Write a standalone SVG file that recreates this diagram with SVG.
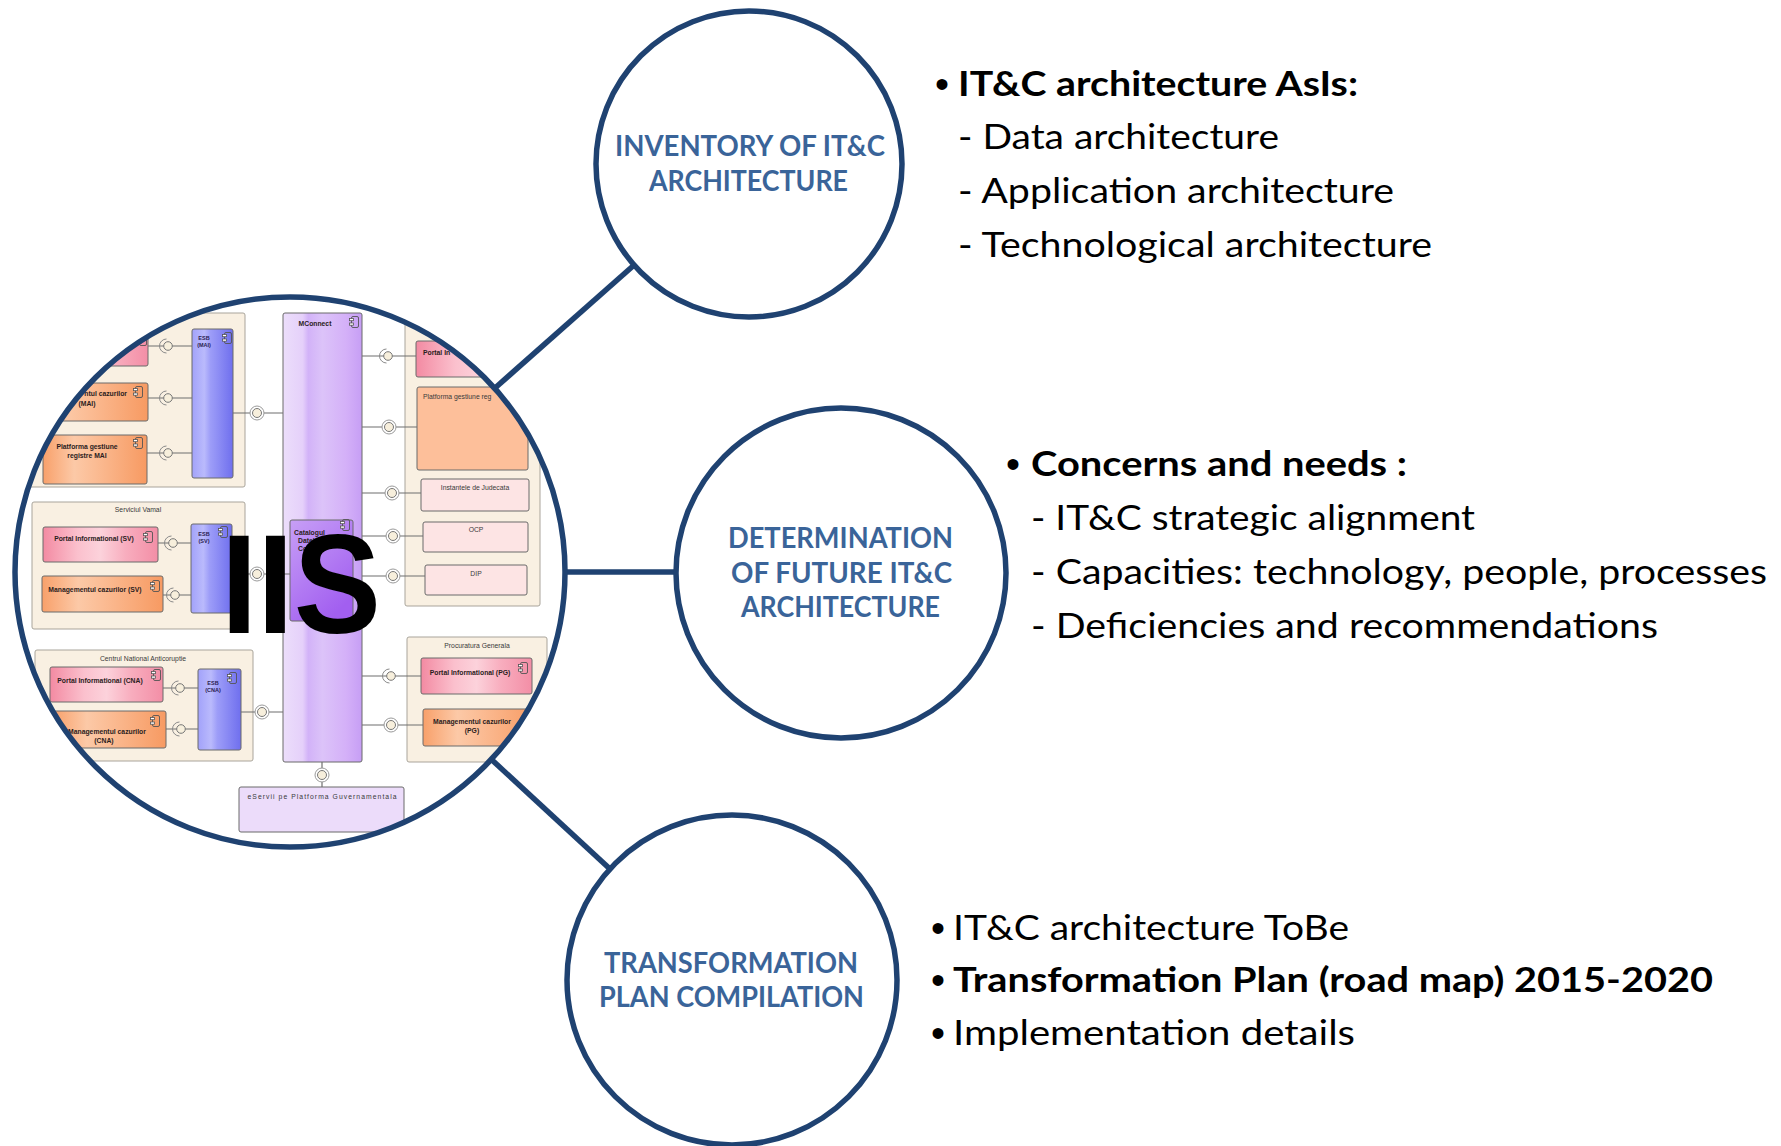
<svg xmlns="http://www.w3.org/2000/svg" xmlns:xlink="http://www.w3.org/1999/xlink" width="1781" height="1146" viewBox="0 0 1781 1146">
<style>
.conn{stroke:#1f4271;stroke-width:5.5;fill:none}
.ring{fill:#fff;stroke:#1f4271;stroke-width:5.5}
.ct{font-family:Lato,"Open Sans",sans-serif;font-weight:700;font-size:29px;fill:#3a6499;text-anchor:middle}
.bt{font-family:Lato,"Open Sans",sans-serif;font-size:35px;fill:#000}
.bu{font-family:"Liberation Sans",Arial,sans-serif;font-size:40px;fill:#000}
.b{font-weight:700}
.pkg{fill:#f9f0e2;stroke:#a9a49b;stroke-width:1}
.cmp{stroke:#6b6b6b;stroke-width:1}
.ln{stroke:#6e6e6e;stroke-width:1.2;fill:none}
.lb{font-family:"Liberation Sans",Arial,sans-serif;font-size:6.8px;font-weight:700;fill:#2a2020}
.lr{font-family:"Liberation Sans",Arial,sans-serif;font-size:6.8px;fill:#3a3a3a}
.ls{font-family:"Liberation Sans",Arial,sans-serif;font-size:5.5px;font-weight:700;fill:#2a2050;text-anchor:middle}
.m{text-anchor:middle}
.e{text-anchor:end}
</style>
<defs>
<linearGradient id="gPink" x1="0" y1="0" x2="1" y2="0">
<stop offset="0" stop-color="#f38aa2"/><stop offset="0.3" stop-color="#fbc0cd"/><stop offset="0.5" stop-color="#fcd2db"/><stop offset="0.72" stop-color="#f8adbe"/><stop offset="1" stop-color="#f38ea6"/>
</linearGradient>
<linearGradient id="gOr" x1="0" y1="0" x2="1" y2="0">
<stop offset="0" stop-color="#f8a06a"/><stop offset="0.3" stop-color="#fcc9a7"/><stop offset="0.5" stop-color="#fbbc94"/><stop offset="1" stop-color="#f79a62"/>
</linearGradient>
<linearGradient id="gBlue" x1="0" y1="0" x2="1" y2="0">
<stop offset="0" stop-color="#a2a2fa"/><stop offset="0.3" stop-color="#babafc"/><stop offset="0.45" stop-color="#9d9df8"/><stop offset="1" stop-color="#6f6fee"/>
</linearGradient>
<linearGradient id="gMc" x1="0" y1="0" x2="1" y2="0">
<stop offset="0" stop-color="#ecdefb"/><stop offset="0.25" stop-color="#e5d0fa"/><stop offset="0.32" stop-color="#d2b2f8"/><stop offset="0.5" stop-color="#dcc3f9"/><stop offset="0.8" stop-color="#d4b0f8"/><stop offset="1" stop-color="#c69ef5"/>
</linearGradient>
<linearGradient id="gCat" x1="0" y1="0" x2="0.6" y2="1">
<stop offset="0" stop-color="#c79ff6"/><stop offset="1" stop-color="#a25ff0"/>
</linearGradient>
<symbol id="ico" viewBox="0 0 10 12" width="10" height="12">
<rect x="2.5" y="0.5" width="7" height="11" rx="1.5" fill="none" stroke="#555" stroke-width="0.9"/>
<rect x="0.5" y="2.5" width="4" height="2.2" fill="#fff" stroke="#555" stroke-width="0.8"/>
<rect x="0.5" y="7" width="4" height="2.2" fill="#fff" stroke="#555" stroke-width="0.8"/>
</symbol>
<g id="lp1"><path d="M -1.5 -7 A 7 7 0 0 0 -1.5 7" stroke="#8a8a8a" fill="none" stroke-width="1"/><circle r="4.3" fill="#f7efdc" stroke="#777" stroke-width="1"/></g>
<g id="lp2"><circle r="7" fill="#fff" stroke="#9a9a9a" stroke-width="1"/><circle r="4.5" fill="#f7efdc" stroke="#777" stroke-width="1"/></g>
<clipPath id="cc"><circle cx="290" cy="572" r="274"/></clipPath>
</defs>
<rect width="1781" height="1146" fill="#fff"/>

<g id="connectors">
<line class="conn" x1="495" y1="388" x2="633" y2="266"/>
<line class="conn" x1="566" y1="572" x2="677" y2="572"/>
<line class="conn" x1="492" y1="760" x2="610" y2="869"/>
</g>

<g id="iis">
<circle cx="290" cy="572" r="275" fill="#fff"/>
<g clip-path="url(#cc)">
<rect class="pkg" x="20" y="313" width="225" height="174" rx="2"/>
<rect class="cmp" x="30" y="322" width="118" height="44" rx="2" fill="url(#gPink)"/>
<use href="#ico" x="137" y="334"/>
<rect class="cmp" x="30" y="383" width="118" height="38" rx="2" fill="url(#gOr)"/>
<use href="#ico" x="133" y="386"/>
<text class="lb e" x="127" y="396">ntul cazurilor</text>
<text class="lb m" x="87" y="406">(MAI)</text>
<rect class="cmp" x="43" y="435" width="104" height="49" rx="2" fill="url(#gOr)"/>
<use href="#ico" x="133" y="437"/>
<text class="lb m" x="87" y="449">Platforma gestiune</text>
<text class="lb m" x="87" y="458">registre MAI</text>
<rect class="cmp" x="192" y="329" width="41" height="149" rx="2" fill="url(#gBlue)"/>
<use href="#ico" x="222" y="332"/>
<text class="ls" x="204" y="340">ESB</text>
<text class="ls" x="204" y="347">(MAI)</text>
<rect class="pkg" x="32" y="502" width="213" height="127" rx="2"/>
<text class="lr m" x="138" y="512">Serviciul Vamal</text>
<rect class="cmp" x="43" y="527" width="115" height="35" rx="2" fill="url(#gPink)"/>
<use href="#ico" x="143" y="531"/>
<text class="lb m" x="94" y="541">Portal Informational (SV)</text>
<rect class="cmp" x="42" y="576" width="121" height="36" rx="2" fill="url(#gOr)"/>
<use href="#ico" x="150" y="580"/>
<text class="lb m" x="95" y="592">Managementul cazurilor (SV)</text>
<rect class="cmp" x="191" y="524" width="41" height="89" rx="2" fill="url(#gBlue)"/>
<use href="#ico" x="218" y="526"/>
<text class="ls" x="204" y="536">ESB</text>
<text class="ls" x="204" y="543">(SV)</text>
<rect class="pkg" x="35" y="650" width="218" height="111" rx="2"/>
<text class="lr m" x="143" y="661">Centrul National Anticoruptie</text>
<rect class="cmp" x="50" y="667" width="113" height="35" rx="2" fill="url(#gPink)"/>
<use href="#ico" x="151" y="669"/>
<text class="lb m" x="100" y="683">Portal Informational (CNA)</text>
<rect class="cmp" x="53" y="711" width="113" height="37" rx="2" fill="url(#gOr)"/>
<use href="#ico" x="150" y="715"/>
<text class="lb m" x="107" y="734">Managementul cazurilor</text>
<text class="lb m" x="104" y="743">(CNA)</text>
<rect class="cmp" x="198" y="669" width="43" height="81" rx="2" fill="url(#gBlue)"/>
<use href="#ico" x="227" y="672"/>
<text class="ls" x="213" y="685">ESB</text>
<text class="ls" x="213" y="692">(CNA)</text>
<rect class="cmp" x="283" y="313" width="79" height="449" rx="2" fill="url(#gMc)" stroke="#9a8aa8"/>
<use href="#ico" x="349" y="316"/>
<text class="lb m" x="315" y="326">MConnect</text>
<rect class="cmp" x="290" y="520" width="63" height="101" rx="2" fill="url(#gCat)"/>
<use href="#ico" x="340" y="519"/>
<text class="lb" x="294" y="535">Catalogul</text>
<text class="lb" x="298" y="543">Datel</text>
<text class="lb" x="298" y="551">Com</text>
<rect class="pkg" x="405" y="290" width="135" height="316" rx="2"/>
<rect class="cmp" x="416" y="341" width="130" height="36" rx="2" fill="url(#gPink)"/>
<text class="lb" x="423" y="355">Portal In</text>
<rect class="cmp" x="417" y="387" width="111" height="83" rx="2" fill="#fdbf9a"/>
<text class="lr" x="423" y="399">Platforma gestiune reg</text>
<rect class="cmp" x="421" y="479" width="108" height="32" rx="2" fill="#fde4e4"/>
<text class="lr m" x="475" y="490">Instantele de Judecata</text>
<rect class="cmp" x="423" y="522" width="105" height="30" rx="2" fill="#fde4e4"/>
<text class="lr m" x="476" y="532">OCP</text>
<rect class="cmp" x="425" y="565" width="102" height="30" rx="2" fill="#fde4e4"/>
<text class="lr m" x="476" y="576">DIP</text>
<rect class="pkg" x="407" y="637" width="140" height="125" rx="2"/>
<text class="lr m" x="477" y="648">Procuratura Generala</text>
<rect class="cmp" x="421" y="658" width="111" height="36" rx="2" fill="url(#gPink)"/>
<use href="#ico" x="518" y="662"/>
<text class="lb m" x="470" y="675">Portal Informational (PG)</text>
<rect class="cmp" x="423" y="709" width="115" height="37" rx="2" fill="url(#gOr)"/>
<use href="#ico" x="525" y="710"/>
<text class="lb m" x="472" y="724">Managementul cazurilor</text>
<text class="lb m" x="472" y="733">(PG)</text>
<rect class="cmp" x="239" y="787" width="165" height="45" rx="2" fill="#ecdcfa" stroke="#8a8a8a"/>
<text class="lr m" x="322" y="799" textLength="149" lengthAdjust="spacing">eServii pe Platforma Guvernamentala</text>
<path class="ln" d="M148 346H192M148 398H192M147 453H192M233 413H283M158 543H191M163 595H191M232 574H290M163 688H198M166 729H198M241 712H283M362 356H416M362 427H417M362 493H421M362 536H423M362 576H425M362 676H421M362 725H423M322 762V787"/>
<use href="#lp1" x="168" y="346"/>
<use href="#lp1" x="168" y="398"/>
<use href="#lp1" x="168" y="453"/>
<use href="#lp2" x="257" y="413"/>
<use href="#lp1" x="173" y="543"/>
<use href="#lp1" x="175" y="595"/>
<use href="#lp2" x="257" y="574"/>
<use href="#lp1" x="180" y="688"/>
<use href="#lp1" x="181" y="729"/>
<use href="#lp2" x="262" y="712"/>
<use href="#lp1" x="388" y="356"/>
<use href="#lp2" x="389" y="427"/>
<use href="#lp2" x="392" y="493"/>
<use href="#lp2" x="393" y="536"/>
<use href="#lp2" x="393" y="576"/>
<use href="#lp1" x="391" y="676"/>
<use href="#lp2" x="391" y="725"/>
<use href="#lp2" x="322" y="775"/>
<text x="221" y="633" font-family="'Liberation Sans',Arial,sans-serif" font-weight="700" font-size="141" fill="#000" textLength="160" lengthAdjust="spacingAndGlyphs">IIS</text>
</g>
<circle cx="290" cy="572" r="275" fill="none" stroke="#1f4271" stroke-width="5.5"/>
</g>

<g id="inventory">
<circle class="ring" cx="749" cy="164" r="153"/>
<text class="ct" x="750" y="156" textLength="270" lengthAdjust="spacingAndGlyphs">INVENTORY OF IT&amp;C</text>
<text class="ct" x="748.5" y="191" textLength="199" lengthAdjust="spacingAndGlyphs">ARCHITECTURE</text>
</g>

<g id="determination">
<circle class="ring" cx="841" cy="573" r="165"/>
<text class="ct" x="840.5" y="548" textLength="225" lengthAdjust="spacingAndGlyphs">DETERMINATION</text>
<text class="ct" x="841.5" y="583" textLength="221" lengthAdjust="spacingAndGlyphs">OF FUTURE IT&amp;C</text>
<text class="ct" x="840.5" y="617" textLength="199" lengthAdjust="spacingAndGlyphs">ARCHITECTURE</text>
</g>

<g id="transformation">
<circle class="ring" cx="732" cy="980" r="165"/>
<text class="ct" x="731" y="973" textLength="254" lengthAdjust="spacingAndGlyphs">TRANSFORMATION</text>
<text class="ct" x="731.5" y="1007" textLength="265" lengthAdjust="spacingAndGlyphs">PLAN COMPILATION</text>
</g>

<g id="asis-text">
<text class="bu" x="935" y="97.5">•</text>
<text class="bt b" x="958" y="96" textLength="400" lengthAdjust="spacingAndGlyphs">IT&amp;C architecture AsIs:</text>
<text class="bt" x="958" y="149" textLength="321" lengthAdjust="spacingAndGlyphs">- Data architecture</text>
<text class="bt" x="958" y="203" textLength="436" lengthAdjust="spacingAndGlyphs">- Application architecture</text>
<text class="bt" x="958" y="257" textLength="474" lengthAdjust="spacingAndGlyphs">- Technological architecture</text>
</g>

<g id="concerns-text">
<text class="bu" x="1006" y="477.5">•</text>
<text class="bt b" x="1031" y="476" textLength="376" lengthAdjust="spacingAndGlyphs">Concerns and needs :</text>
<text class="bt" x="1031" y="530" textLength="444" lengthAdjust="spacingAndGlyphs">- IT&amp;C strategic alignment</text>
<text class="bt" x="1031" y="584" textLength="736" lengthAdjust="spacingAndGlyphs">- Capacities: technology, people, processes</text>
<text class="bt" x="1031" y="638" textLength="627" lengthAdjust="spacingAndGlyphs">- Deficiencies and recommendations</text>
</g>

<g id="tobe-text">
<text class="bu" x="931" y="941.5">•</text>
<text class="bt" x="953" y="940" textLength="396" lengthAdjust="spacingAndGlyphs">IT&amp;C architecture ToBe</text>
<text class="bu" x="931" y="993.5">•</text>
<text class="bt b" x="953" y="992" textLength="760" lengthAdjust="spacingAndGlyphs">Transformation Plan (road map) 2015-2020</text>
<text class="bu" x="931" y="1046.5">•</text>
<text class="bt" x="953" y="1045" textLength="402" lengthAdjust="spacingAndGlyphs">Implementation details</text>
</g>
</svg>
